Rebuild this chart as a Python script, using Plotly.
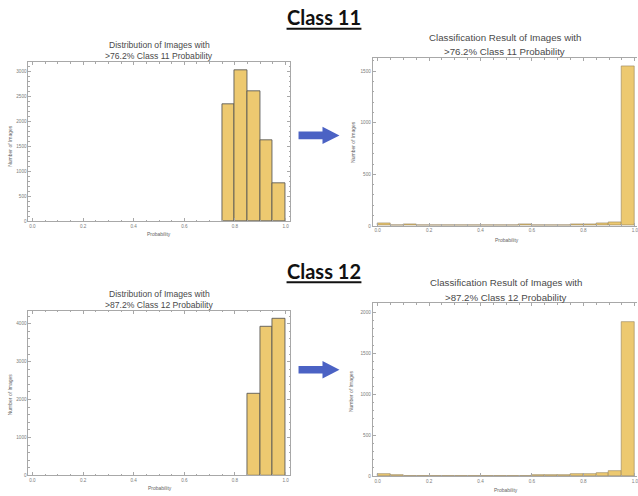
import plotly.graph_objects as go

W, H = 638, 496

# ---------------- data ----------------
bin_width = 0.05
# Class 11: distribution of images with >76.2% class-11 probability
c11_dist_bins = [0.75, 0.80, 0.85, 0.90, 0.95]
c11_dist_counts = [2350, 3025, 2600, 1630, 760]
# Class 11: classification result (20 bins 0..1)
result_bins = [round(i * 0.05, 2) for i in range(20)]
c11_result_counts = [28, 6, 14, 8, 8, 4, 6, 6, 4, 6, 4, 14, 8, 4, 8, 12, 16, 24, 32, 1541]
# Class 12: distribution of images with >87.2% class-12 probability
c12_dist_bins = [0.85, 0.90, 0.95]
c12_dist_counts = [2157, 3930, 4120]
# Class 12: classification result
c12_result_counts = [20, 8, 2, 4, 4, 3, 3, 3, 3, 3, 3, 5, 6, 12, 12, 20, 20, 40, 65, 1885]

x_ticks = [0.0, 0.2, 0.4, 0.6, 0.8, 1.0]

# ---------------- helpers ----------------
def px(x):
    return x / W

def py(y):
    return 1 - y / H

BAR_FILL = "#EDC970"
TITLE_COL = "#4a4a4a"
TICK_COL = "#7a7a7a"
FRAME_COL = "#a8a8a8"

fig = go.Figure()

def add_hist(bins, counts, xa, ya, edge):
    fig.add_trace(go.Bar(
        x=bins, y=counts, width=bin_width, offset=0,
        marker=dict(color=BAR_FILL, line=dict(color=edge, width=1)),
        xaxis=xa, yaxis=ya, showlegend=False, hoverinfo="x+y"))

add_hist(c11_dist_bins, c11_dist_counts, "x", "y", "rgba(85,85,85,0.85)")
add_hist(result_bins, c11_result_counts, "x2", "y2", "rgba(150,130,90,0.6)")
add_hist(c12_dist_bins, c12_dist_counts, "x3", "y3", "rgba(85,85,85,0.85)")
add_hist(result_bins, c12_result_counts, "x4", "y4", "rgba(150,130,90,0.6)")

tickfont = dict(family="Liberation Sans, Arial, sans-serif", size=4.6, color=TICK_COL)

def xax(domain, rng, anchor, mirror):
    return dict(domain=domain, range=rng, anchor=anchor, tickvals=x_ticks,
                tickformat=".1f", ticks="inside", ticklen=3, tickcolor=FRAME_COL,
                showline=True, linecolor=FRAME_COL, linewidth=1, mirror=mirror,
                showgrid=False, zeroline=False, tickfont=tickfont,
                ticklabeloverflow="allow",
                minor=dict(dtick=0.05, tick0=0, ticks="inside", ticklen=1.5,
                           tickcolor=FRAME_COL, showgrid=False),
                fixedrange=True)

def yax(domain, rng, anchor, dtick, mdtick, mirror):
    return dict(domain=domain, range=rng, anchor=anchor, dtick=dtick, tick0=0,
                ticks="inside", ticklen=3, tickcolor=FRAME_COL,
                showline=True, linecolor=FRAME_COL, linewidth=1, mirror=mirror,
                showgrid=False, zeroline=False, tickfont=tickfont,
                minor=dict(dtick=mdtick, tick0=0, ticks="inside", ticklen=1.5,
                           tickcolor=FRAME_COL, showgrid=False),
                fixedrange=True)

left_xdom = [px(28.5), px(290.8)]
left_xrng = [-0.0158, 1.0189]
right_xdom = [px(373.3), 1.0]
right_xrng = [-0.0194, 1.0085]

fig.update_layout(
    width=W, height=H, autosize=False,
    margin=dict(l=0, r=0, t=0, b=0),
    paper_bgcolor="white", plot_bgcolor="white",
    bargap=0,
    xaxis=xax(left_xdom, left_xrng, "y", "allticks"),
    yaxis=yax([py(222.5), py(62.7)], [0, 3187], "x", 500, 100, "allticks"),
    xaxis2=xax(right_xdom, right_xrng, "y2", "allticks"),
    yaxis2=yax([py(227.3), py(58.8)], [0, 1623], "x2", 500, 100, False),
    xaxis3=xax(left_xdom, left_xrng, "y3", "allticks"),
    yaxis3=yax([py(478.3), py(312.7)], [0, 4340], "x3", 1000, 200, "allticks"),
    xaxis4=xax(right_xdom, right_xrng, "y4", "allticks"),
    yaxis4=yax([py(479), py(305)], [0, 2112], "x4", 500, 100, False),
)

annotations = []

def text(x, y, s, size, color=TITLE_COL, angle=0, family="Liberation Sans, Arial, sans-serif"):
    annotations.append(dict(x=px(x), y=py(y), xref="paper", yref="paper",
                            text=s, showarrow=False, xanchor="center", yanchor="middle",
                            textangle=angle, font=dict(family=family, size=size, color=color)))

# Section headings
text(324.5, 17.5, "<b>Class 11</b>", 20, "#111111", family="Lato, Liberation Sans, sans-serif")
text(324.5, 272.5, "<b>Class 12</b>", 20, "#111111", family="Lato, Liberation Sans, sans-serif")

# Panel titles
text(159.5, 45.7, "Distribution of Images with", 8.6)
text(159.5, 56.7, ">76.2% Class 11 Probability", 8.6)
text(505.5, 37.3, "Classification Result of Images with", 9.7)
text(505.5, 52.3, ">76.2% Class 11 Probability", 9.7)
text(159.5, 295.5, "Distribution of Images with", 8.6)
text(159.5, 306.7, ">87.2% Class 12 Probability", 8.6)
text(507, 284.0, "Classification Result of Images with", 9.7)
text(507, 299.0, ">87.2% Class 12 Probability", 9.7)

# Axis titles
AX_COL = "#666666"
text(159.3, 235.0, "Probability", 5.0, AX_COL)
text(10.0, 146.7, "Number of Images", 5.0, AX_COL, angle=-90)
text(507.7, 241.7, "Probability", 5.0, AX_COL)
text(353.3, 143.0, "Number of Images", 5.0, AX_COL, angle=-90)
text(160.0, 491.0, "Probability", 5.0, AX_COL)
text(10.0, 396.7, "Number of Images", 5.0, AX_COL, angle=-90)
text(506.7, 492.5, "Probability", 5.0, AX_COL)
text(351.7, 393.3, "Number of Images", 5.0, AX_COL, angle=-90)

fig.update_layout(annotations=annotations)

# Underlines and arrows (layout decorations)
shapes = []
for uy in (29.0, 284.0):
    shapes.append(dict(type="line", xref="paper", yref="paper",
                       x0=px(287), x1=px(362), y0=py(uy), y1=py(uy),
                       line=dict(color="#111111", width=2)))

def arrow(cy):
    pts = [(299, cy - 3.8), (323, cy - 3.8), (323, cy - 8.8), (340, cy),
           (323, cy + 8.8), (323, cy + 3.8), (299, cy + 3.8)]
    path = "M " + " L ".join(f"{px(a):.5f},{py(b):.5f}" for a, b in pts) + " Z"
    return dict(type="path", xref="paper", yref="paper", path=path,
                fillcolor="#4B62C4", line=dict(width=0))

shapes.append(arrow(136.2))
shapes.append(arrow(372.0))
fig.update_layout(shapes=shapes)

fig.write_html("out.html",
               config={"displayModeBar": False},
               post_script="document.body.style.margin='0';document.body.style.overflow='hidden';")
